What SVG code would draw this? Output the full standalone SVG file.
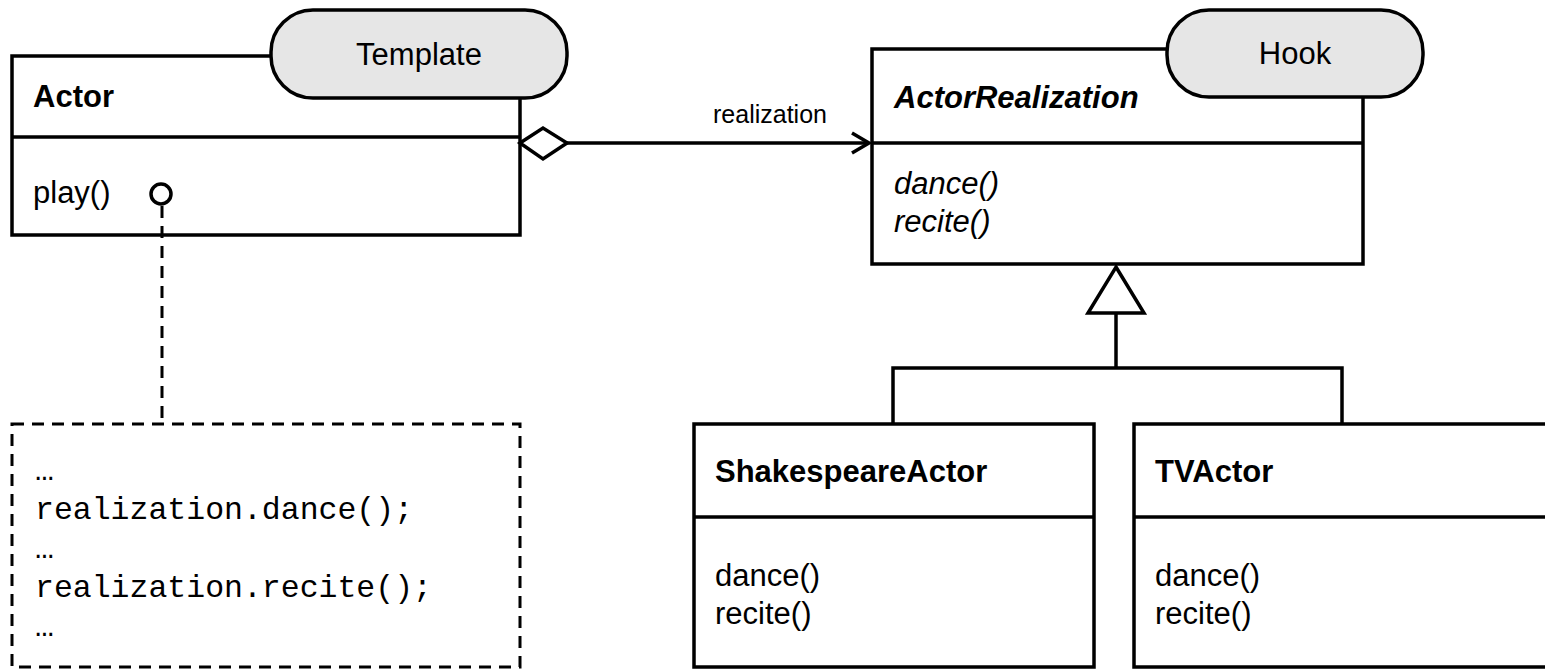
<svg xmlns="http://www.w3.org/2000/svg" width="1545" height="670" viewBox="0 0 1545 670">
  <style>
    .box { fill: #ffffff; stroke: #000000; stroke-width: 3.5; }
    .sep { stroke: #000000; stroke-width: 3.5; fill: none; }
    .pill { fill: #e6e6e6; stroke: #000000; stroke-width: 3.5; }
    .line { stroke: #000000; stroke-width: 3.5; fill: none; }
    .dash { stroke: #000000; stroke-width: 3; fill: none; stroke-dasharray: 12 8; }
    .t { font-family: "Liberation Sans", Arial, sans-serif; font-size: 31px; fill: #000000; }
    .b { font-weight: bold; }
    .i { font-style: italic; }
    .c { text-anchor: middle; }
    .mono { font-family: "Liberation Mono", "Courier New", monospace; font-size: 31.5px; fill: #000000; }
  </style>

  <rect width="1545" height="670" fill="#ffffff"/>

  <!-- Actor class with its Template tag -->
  <g id="actor">
    <rect class="box" x="12" y="56" width="508" height="179"/>
    <line class="sep" x1="12" y1="137" x2="520" y2="137"/>
    <text class="t b" x="33" y="107">Actor</text>
    <text class="t" x="33" y="203">play()</text>
    <rect class="pill" x="271" y="10" width="296" height="88" rx="42" ry="42"/>
    <text class="t c" x="419" y="65">Template</text>
  </g>

  <!-- ActorRealization class with its Hook tag -->
  <g id="actor-realization">
    <rect class="box" x="872" y="49" width="491" height="215"/>
    <line class="sep" x1="872" y1="143" x2="1363" y2="143"/>
    <text class="t b i" x="894" y="108">ActorRealization</text>
    <text class="t i" x="894" y="194">dance()</text>
    <text class="t i" x="894" y="232">recite()</text>
    <rect class="pill" x="1167" y="10" width="256" height="87" rx="42" ry="42"/>
    <text class="t c" x="1295" y="64">Hook</text>
  </g>

  <!-- ShakespeareActor subclass -->
  <g id="shakespeare-actor">
    <rect class="box" x="694" y="424" width="400" height="243"/>
    <line class="sep" x1="694" y1="517" x2="1094" y2="517"/>
    <text class="t b" x="715" y="482">ShakespeareActor</text>
    <text class="t" x="715" y="586">dance()</text>
    <text class="t" x="715" y="624">recite()</text>
  </g>

  <!-- TVActor subclass (runs past the right edge) -->
  <g id="tv-actor">
    <rect class="box" x="1134" y="424" width="430" height="243"/>
    <line class="sep" x1="1134" y1="517" x2="1564" y2="517"/>
    <text class="t b" x="1155" y="482">TVActor</text>
    <text class="t" x="1155" y="586">dance()</text>
    <text class="t" x="1155" y="624">recite()</text>
  </g>

  <!-- Code note attached to play() -->
  <g id="play-note">
    <rect class="dash" x="12" y="424" width="508" height="243"/>
    <text class="mono" x="35" y="480">…</text>
    <text class="mono" x="35" y="519">realization.dance();</text>
    <text class="mono" x="35" y="558">…</text>
    <text class="mono" x="35" y="597">realization.recite();</text>
    <text class="mono" x="35" y="636">…</text>
  </g>

  <!-- Connectors -->
  <g id="connectors">
    <!-- aggregation Actor -> ActorRealization -->
    <line class="line" x1="567" y1="143" x2="869" y2="143"/>
    <polygon class="box" points="520,143 543,128 567,143 543,159"/>
    <polyline class="line" points="852,133 869,143 852,153"/>
    <text class="t c" x="770" y="123" style="font-size:25px">realization</text>

    <!-- note anchor on play() -->
    <line class="dash" x1="162" y1="206" x2="162" y2="424"/>
    <circle class="box" cx="161" cy="194" r="10"/>

    <!-- generalization tree -->
    <polyline class="line" points="893,424 893,368 1342,368 1342,424"/>
    <line class="line" x1="1116" y1="313" x2="1116" y2="368"/>
    <polygon class="box" points="1116,267 1144,313 1088,313"/>
  </g>
</svg>
